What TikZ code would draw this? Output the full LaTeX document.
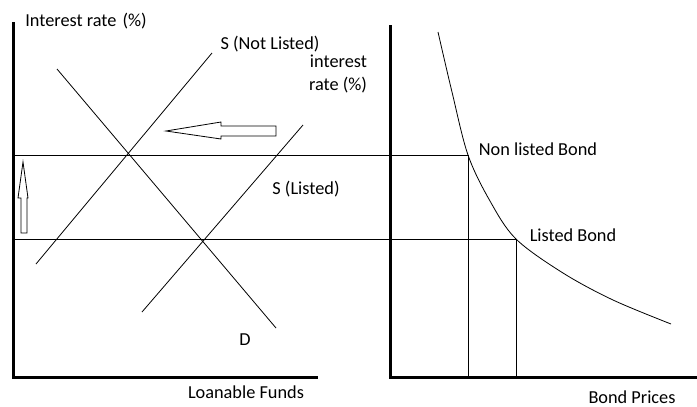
\documentclass[tikz,border=0pt]{standalone}
\usepackage{fontspec}
\setmainfont{Carlito}
\usetikzlibrary{calc,positioning}

\begin{document}
\begin{tikzpicture}[x=1pt, y=-1pt,
	lbl/.style={font=\fontsize{18.3}{23}\selectfont, inner sep=0pt},
	axis/.style={line width=3pt},
	thin line/.style={line width=0.8pt},
	block/.style={line width=0.8pt, fill=white}]
	\useasboundingbox (0,0) rectangle (697,407);
	% axes
	\coordinate (L0) at (13,377);
	\coordinate (Ltop) at (13,22);
	\coordinate (Lend) at (318,377);
	\coordinate (R0) at (390,377);
	\coordinate (Rtop) at (390,25);
	\coordinate (Rend) at (697,377);
	\draw[axis] (Ltop)--(L0)--(Lend);
	\draw[axis] (Rtop)--(R0)--(Rend);
	% levels
	\coordinate (Hi) at (13,155);
	\coordinate (Lo) at (13,239);
	\coordinate (PNL) at (468,155);
	\coordinate (PL) at (516,239);
	\draw[thin line] (Hi)--(PNL);
	\draw[thin line] (Lo)--(PL);
	\draw[thin line] (PNL)--(PNL|-R0);
	\draw[thin line] (PL)--(PL|-R0);
	% curves
	\draw[thin line] (57,69)--(276,328);
	\draw[thin line] (36,264)--(212,53);
	\draw[thin line] (142,312)--(303,125);
	\draw[thin line] plot[smooth, tension=0.55] coordinates
		{(438,32) (452,92) (468,155) (490,201) (516,239) (563,273) (613,300) (671,324)};
	% shift arrows
	\draw[block] (276,126)--(221,126)--(221,122)--(166,131)--(221,139)--(221,136)--(276,136)--cycle;
	\draw[block] (21,233)--(21,198)--(18,198)--(23,162)--(28,198)--(27,198)--(27,233)--cycle;
	% labels
	\node[lbl] (yl) at (86,21) {Interest rate\hspace{6pt}(\%)};
	\node[lbl] (snl) at (270,44) {S (Not Listed)};
	\node[lbl, align=right] (yr) at (338,74) {interest\\rate (\%)};
	\node[lbl] (sl) at (306,189) {S (Listed)};
	\node[lbl] (dl) at (245,340) {D};
	\node[lbl] (xl) at (246,392) {Loanable Funds};
	\node[lbl] (nlb) at (538,149) {Non listed Bond};
	\node[lbl] (lb) at (573,235) {Listed Bond};
	\node[lbl] (xr) at (632,397) {Bond Prices};
\end{tikzpicture}
\end{document}
